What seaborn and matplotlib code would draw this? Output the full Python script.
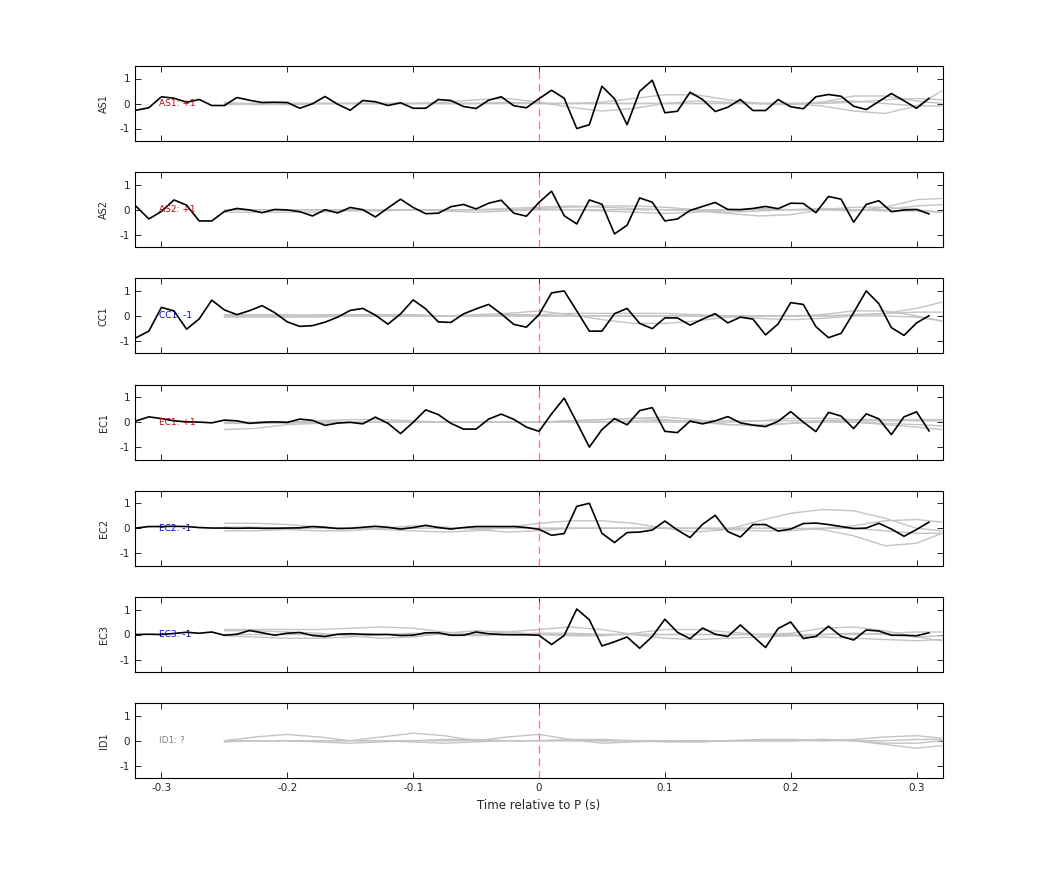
import numpy as np
import pandas as pd
import matplotlib
matplotlib.use("Agg")
import matplotlib.pyplot as plt
import seaborn as sns

sns.set_style("white")
plt.rcParams['font.family'] = ['DejaVu Sans']

channels = ["AS1", "AS2", "CC1", "EC1", "EC2", "EC3", "ID1"]
labels = ["AS1: +1", "AS2: +1", "CC1: -1", "EC1: +1", "EC2: -1", "EC3: -1", "ID1: ?"]
label_colors = ["#d00000", "#d00000", "#0000d0", "#d00000", "#0000d0", "#0000d0", "#808080"]

t_black = [round(-0.32 + 0.01 * i, 2) for i in range(64)]

AS1 = [-0.27,-0.17,0.27,0.21,0.05,0.16,-0.08,-0.08,0.24,0.13,0.04,0.05,0.04,-0.19,-0.01,0.28,
       -0.03,-0.27,0.12,0.07,-0.08,0.03,-0.19,-0.19,0.16,0.12,-0.12,-0.2,0.13,0.27,-0.09,-0.17,
       0.19,0.53,0.21,-1.0,-0.85,0.69,0.19,-0.85,0.49,0.93,-0.37,-0.31,0.45,0.16,-0.32,-0.15,
       0.16,-0.28,-0.28,0.16,-0.13,-0.21,0.27,0.36,0.29,-0.11,-0.24,0.08,0.4,0.11,-0.19,0.21]
AS2 = [0.13,-0.37,-0.07,0.39,0.18,-0.45,-0.45,-0.07,0.05,-0.01,-0.12,0.01,-0.01,-0.08,-0.25,0.0,
       -0.13,0.09,0.0,-0.29,0.07,0.42,0.09,-0.16,-0.14,0.12,0.21,0.03,0.26,0.38,-0.14,-0.26,
       0.29,0.74,-0.24,-0.57,0.39,0.22,-0.97,-0.62,0.47,0.3,-0.45,-0.37,-0.03,0.13,0.29,0.01,
       0.0,0.05,0.13,0.04,0.26,0.25,-0.12,0.53,0.42,-0.5,0.21,0.36,-0.08,-0.01,0.01,-0.17]
CC1 = [-0.87,-0.61,0.34,0.2,-0.53,-0.12,0.63,0.24,0.05,0.21,0.41,0.13,-0.24,-0.42,-0.39,-0.25,
       -0.05,0.22,0.3,0.03,-0.33,0.08,0.64,0.28,-0.24,-0.26,0.08,0.28,0.46,0.08,-0.34,-0.45,
       0.05,0.92,1.0,0.2,-0.61,-0.61,0.09,0.3,-0.3,-0.51,-0.08,-0.08,-0.37,-0.13,0.09,-0.28,
       -0.05,-0.13,-0.76,-0.32,0.53,0.46,-0.43,-0.87,-0.7,0.13,1.0,0.49,-0.47,-0.78,-0.28,0.01]
EC1 = [0.05,0.21,0.14,0.05,0.01,0.0,-0.03,0.08,0.05,-0.05,-0.01,0.01,-0.01,0.12,0.07,-0.13,
       -0.04,-0.01,-0.07,0.2,-0.05,-0.46,-0.01,0.49,0.3,-0.05,-0.28,-0.28,0.12,0.32,0.11,-0.2,
       -0.37,0.33,0.96,-0.01,-1.0,-0.3,0.14,-0.11,0.46,0.58,-0.37,-0.42,0.04,-0.07,0.05,0.22,
       -0.03,-0.12,-0.18,0.03,0.42,0.0,-0.38,0.39,0.24,-0.26,0.33,0.13,-0.5,0.21,0.41,-0.36]
EC2 = [0.01,0.07,0.07,0.08,0.07,0.03,0.01,0.01,0.0,0.01,0.0,0.0,0.01,0.02,0.07,0.04,
       -0.01,0.0,0.04,0.08,0.04,-0.03,0.03,0.12,0.03,-0.03,0.03,0.07,0.07,0.07,0.07,0.03,
       -0.04,-0.28,-0.21,0.88,1.0,-0.2,-0.57,-0.17,-0.15,-0.07,0.29,-0.07,-0.37,0.16,0.52,-0.13,
       -0.35,0.15,0.15,-0.11,-0.03,0.19,0.21,0.15,0.07,-0.01,0.01,0.2,-0.03,-0.32,-0.05,0.25]
EC3 = [0.0,0.01,0.0,0.04,0.09,0.05,0.1,-0.03,0.01,0.16,0.07,-0.03,0.05,0.08,-0.04,-0.08,
       0.01,0.03,0.01,0.0,0.0,-0.04,-0.03,0.07,0.07,-0.03,-0.03,0.1,0.03,0.0,-0.01,-0.01,
       -0.03,-0.4,-0.04,1.02,0.59,-0.46,-0.29,-0.1,-0.55,-0.08,0.61,0.09,-0.17,0.26,0.01,-0.08,
       0.38,-0.07,-0.52,0.24,0.5,-0.16,-0.08,0.33,-0.07,-0.22,0.18,0.14,-0.03,-0.03,-0.05,0.07]
black_series = [AS1, AS2, CC1, EC1, EC2, EC3, None]

t_gray = [-0.25,-0.225,-0.2,-0.175,-0.15,-0.125,-0.1,-0.075,-0.05,-0.025,0.0,0.025,0.05,0.075,
          0.1,0.125,0.15,0.175,0.2,0.225,0.25,0.275,0.3,0.32]
gray_AS1 = [
 [0.0,0.0,0.0,0.0,0.0,0.0,0.0,0.05,0.15,0.2,0.05,-0.15,-0.3,-0.2,0.0,0.1,0.05,0.0,0.0,0.05,0.1,0.0,-0.1,-0.1],
 [0.0,0.0,0.0,0.0,0.0,0.0,0.0,0.0,0.0,0.05,0.0,0.0,0.05,0.2,0.35,0.35,0.15,0.0,-0.05,0.05,0.3,0.3,0.1,0.0],
 [0.05,-0.05,0.0,0.0,0.0,0.0,0.0,0.0,0.0,0.0,0.0,0.0,0.0,0.0,0.0,0.0,0.0,0.0,0.0,-0.1,-0.3,-0.4,-0.1,0.5],
 [-0.05,0.0,-0.05,0.0,0.0,0.0,0.0,0.0,0.0,0.0,0.0,0.0,0.0,0.0,0.0,0.0,0.0,0.0,0.0,0.0,0.05,0.15,0.2,0.15]]
gray_AS2 = [
 [0.0,0.0,0.0,0.0,0.0,0.0,0.0,0.0,0.0,0.05,0.1,0.15,0.1,0.05,0.0,-0.05,-0.15,-0.25,-0.2,0.0,0.1,0.1,0.0,-0.1],
 [-0.1,-0.1,-0.1,-0.1,-0.05,-0.05,0.0,-0.05,-0.1,-0.05,0.0,0.0,-0.05,-0.1,-0.15,-0.1,0.0,0.05,0.0,0.0,-0.05,0.1,0.4,0.45],
 [0.0,0.0,0.0,0.0,0.0,0.0,0.0,0.0,0.0,0.0,0.05,0.1,0.15,0.15,0.1,0.0,-0.1,-0.05,0.0,0.05,0.0,0.0,0.15,0.2],
 [0.0,0.0,0.0,0.0,0.0,0.0,0.0,0.0,0.0,0.0,0.0,0.0,0.0,0.0,0.0,0.0,0.0,0.0,0.0,0.0,0.0,-0.05,-0.05,-0.1]]
gray_CC1 = [
 [0.0,0.0,0.0,0.0,0.0,0.0,0.0,0.0,0.05,0.1,0.2,0.05,-0.15,-0.3,-0.3,-0.2,-0.05,0.0,0.0,0.05,0.2,0.2,0.0,-0.2],
 [0.0,0.0,0.0,0.05,0.05,0.05,0.05,0.0,0.0,0.05,0.05,0.1,0.1,0.1,0.1,0.05,0.0,0.0,0.0,0.0,0.05,0.1,0.3,0.55],
 [-0.05,-0.05,-0.05,-0.05,0.0,0.0,0.0,0.0,0.0,0.0,0.0,0.0,0.0,0.0,0.0,0.0,0.0,-0.1,-0.15,-0.1,0.0,0.1,0.15,0.15],
 [0.05,0.05,0.05,0.0,0.0,0.0,0.0,0.0,0.0,0.0,0.0,0.0,0.0,0.0,0.0,0.0,0.0,0.0,0.0,0.0,0.0,0.0,-0.05,-0.2]]
gray_EC1 = [
 [-0.3,-0.25,-0.1,-0.05,0.0,0.0,0.0,0.0,0.0,0.0,0.0,0.05,0.1,0.15,0.2,0.1,-0.1,-0.15,-0.05,0.05,0.0,-0.1,-0.2,-0.3],
 [-0.05,-0.05,0.0,0.05,0.1,0.1,0.05,0.0,0.0,0.0,0.0,0.05,0.1,0.15,0.1,0.0,0.0,0.05,0.15,0.15,0.1,0.1,0.1,0.1],
 [0.0,0.0,0.0,0.0,0.0,0.0,0.0,0.0,0.0,0.0,0.0,0.0,0.0,0.0,0.0,0.0,-0.1,-0.1,-0.05,0.0,0.0,-0.05,-0.1,-0.15],
 [-0.05,-0.05,-0.05,0.0,0.0,0.0,0.0,0.0,0.0,0.0,0.0,0.0,0.0,0.05,0.05,0.05,0.05,0.05,0.05,0.05,0.05,0.05,0.05,0.05]]
gray_EC2 = [
 [0.2,0.2,0.15,0.05,0.0,-0.05,-0.1,-0.15,-0.1,0.05,0.2,0.3,0.3,0.2,0.0,-0.15,-0.05,0.3,0.6,0.75,0.7,0.4,0.0,-0.1],
 [-0.1,-0.1,-0.05,-0.1,-0.1,0.0,0.1,0.05,-0.05,-0.15,-0.1,0.0,0.0,0.0,0.0,0.0,-0.05,-0.1,-0.1,0.0,0.1,0.3,0.35,0.25],
 [0.0,0.0,0.0,0.0,0.0,0.0,0.0,0.0,0.0,0.0,0.0,0.0,0.0,0.0,0.0,0.0,0.0,0.0,0.0,-0.05,-0.3,-0.7,-0.6,-0.2],
 [0.05,0.05,0.0,0.0,0.0,0.0,0.0,0.0,0.0,0.0,0.0,0.0,0.0,0.0,0.0,0.0,0.0,0.0,0.0,0.0,0.0,-0.1,-0.2,-0.2]]
gray_EC3 = [
 [0.15,0.15,0.1,0.05,-0.05,-0.15,-0.1,0.05,0.15,0.1,0.0,-0.05,-0.05,0.05,0.2,0.2,0.1,0.0,0.05,0.25,0.3,0.15,-0.1,-0.25],
 [0.2,0.2,0.2,0.2,0.25,0.3,0.25,0.1,0.0,0.1,0.2,0.3,0.2,0.0,-0.15,-0.2,-0.15,-0.1,-0.05,0.0,0.05,0.0,-0.1,-0.05],
 [-0.05,-0.1,-0.15,-0.15,-0.1,0.0,0.05,0.0,-0.05,0.0,0.05,0.05,0.0,0.0,0.0,0.0,0.0,0.0,-0.05,-0.1,-0.15,-0.2,-0.25,-0.2],
 [0.0,0.0,0.0,0.0,0.0,0.0,0.0,0.0,0.0,0.0,0.0,0.0,0.0,0.0,0.0,0.0,0.0,0.0,0.0,0.0,0.0,0.05,0.1,0.1]]
gray_ID1 = [
 [0.0,0.15,0.25,0.15,0.0,0.15,0.3,0.2,0.0,0.15,0.25,0.05,-0.1,-0.05,0.0,-0.05,0.0,0.0,0.0,0.05,0.0,-0.1,-0.1,0.0],
 [0.0,0.0,0.0,-0.05,-0.1,-0.05,0.0,0.05,0.05,0.0,0.0,0.0,0.0,0.0,0.0,0.0,0.0,0.0,0.0,0.0,0.0,-0.15,-0.3,-0.2],
 [0.0,0.0,0.0,0.0,0.0,0.0,-0.05,-0.1,-0.05,0.0,0.0,0.05,0.05,0.0,-0.05,-0.05,0.0,0.05,0.05,0.0,0.05,0.15,0.2,0.1],
 [-0.05,0.0,0.0,0.0,0.0,0.0,0.0,0.0,0.0,0.0,0.0,0.0,0.0,0.0,0.0,0.0,0.0,0.0,0.0,0.05,0.0,0.0,0.05,0.05]]
gray_series = [gray_AS1, gray_AS2, gray_CC1, gray_EC1, gray_EC2, gray_EC3, gray_ID1]

xticks = [-0.3, -0.2, -0.1, 0, 0.1, 0.2, 0.3]
xticklabels = ["-0.3", "-0.2", "-0.1", "0", "0.1", "0.2", "0.3"]

fig = plt.figure(figsize=(10.42, 8.75), dpi=100)
W, H = 1042, 875
for k, ch in enumerate(channels):
    top = 66 + 106.2 * k
    ax = fig.add_axes([135 / W, 1 - (top + 75) / H, 808 / W, 75 / H])
    for g in gray_series[k]:
        df = pd.DataFrame({"t": t_gray, "v": g})
        sns.lineplot(data=df, x="t", y="v", ax=ax, color="#c4c4c4", lw=1.0, estimator=None)
    ax.axvline(0, color="#e88080", lw=0.9, ls=(0, (6, 4)))
    if black_series[k] is not None:
        df = pd.DataFrame({"t": t_black, "v": black_series[k]})
        sns.lineplot(data=df, x="t", y="v", ax=ax, color="black", lw=1.2, estimator=None)
    ax.text(-0.302, 0, labels[k], color=label_colors[k], fontsize=6.5, va="center", ha="left")
    ax.set_xlim(-0.321, 0.321)
    ax.set_ylim(-1.5, 1.5)
    ax.set_yticks([-1, 0, 1])
    ax.set_yticklabels(["-1", "0", "1"])
    ax.set_xticks(xticks)
    if k == len(channels) - 1:
        ax.set_xticklabels(xticklabels)
        ax.set_xlabel("Time relative to P (s)", fontsize=8.5)
    else:
        ax.set_xticklabels([])
        ax.set_xlabel("")
    ax.set_ylabel(ch, fontsize=7, labelpad=8)
    ax.tick_params(direction="in", length=4, width=0.7, labelsize=7.5, top=True, right=True,
                   bottom=True, left=True, labeltop=False, labelright=False)
    for s in ax.spines.values():
        s.set_color("black")
        s.set_linewidth(0.8)

fig.savefig("out.png", dpi=100)
